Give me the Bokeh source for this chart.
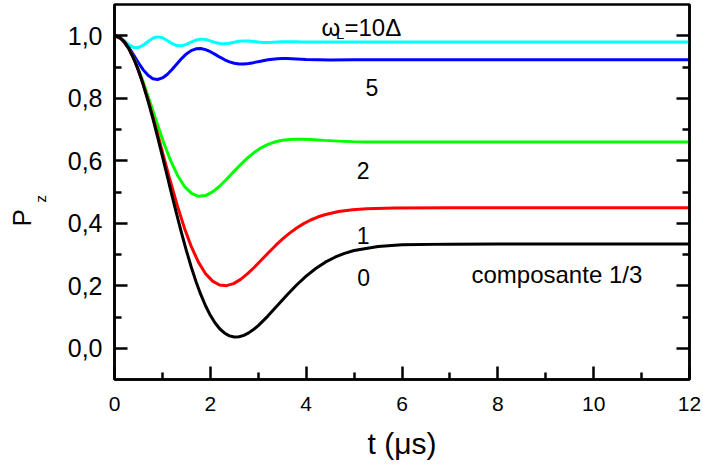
from bokeh.plotting import figure
from bokeh.models import Range1d, LinearAxis, FixedTicker, CustomJSTickFormatter, Label, Title
from bokeh.embed import file_html
from bokeh.resources import INLINE

# ---------------- data ----------------
# omega_L = 0 (zero field)
t_black = [0.0, 0.1, 0.2, 0.3, 0.4, 0.5, 0.6, 0.7, 0.8, 0.9,
           1.0, 1.1, 1.2, 1.3, 1.4, 1.5, 1.6, 1.7, 1.8, 1.9,
           2.0, 2.1, 2.2, 2.3, 2.4, 2.5, 2.6, 2.7, 2.8, 2.9,
           3.0, 3.2, 3.4, 3.6, 3.8, 4.0, 4.2, 4.4, 4.6, 4.8,
           5.0, 5.5, 6.0, 7.0, 8.0, 10.0, 12.0]
p_black = [1.0, 0.9953, 0.9814, 0.9586, 0.9274, 0.8886, 0.8429, 0.7915, 0.7354, 0.6759,
           0.6141, 0.5513, 0.4886, 0.4273, 0.3683, 0.3126, 0.2609, 0.2139, 0.1722, 0.1359,
           0.1054, 0.0807, 0.0616, 0.0481, 0.0397, 0.0361, 0.0368, 0.0413, 0.0492, 0.0598,
           0.0726, 0.1030, 0.1366, 0.1705, 0.2024, 0.2309, 0.2553, 0.2754, 0.2913, 0.3036,
           0.3128, 0.3259, 0.3310, 0.3332, 0.3333, 0.3333, 0.3333]

# omega_L = 1 and 2 Delta
t_rg = [0.0, 0.146, 0.292, 0.439, 0.585, 0.731, 0.877, 1.023, 1.170, 1.316,
        1.462, 1.608, 1.754, 1.901, 2.047, 2.193, 2.339, 2.485, 2.632, 2.778,
        2.924, 3.070, 3.216, 3.363, 3.509, 3.655, 3.801, 3.947, 4.094, 4.240,
        4.386, 4.678, 4.971, 5.263, 5.848, 7.0, 8.0, 10.0, 12.0]
p_red = [1.0, 0.9901, 0.9608, 0.9138, 0.8522, 0.7790, 0.6985, 0.6147, 0.5319, 0.4539,
         0.3835, 0.3233, 0.2748, 0.2386, 0.2148, 0.2024, 0.2003, 0.2069, 0.2203, 0.2386,
         0.2601, 0.2831, 0.3064, 0.3289, 0.3497, 0.3684, 0.3849, 0.3988, 0.4104, 0.4199,
         0.4272, 0.4374, 0.4434, 0.4467, 0.4490, 0.4494, 0.4494, 0.4494, 0.4494]
p_green = [1.0, 0.9901, 0.9612, 0.9159, 0.8580, 0.7925, 0.7246, 0.6592, 0.6009, 0.5529,
           0.5176, 0.4955, 0.4863, 0.4886, 0.5002, 0.5184, 0.5407, 0.5645, 0.5878, 0.6091,
           0.6274, 0.6421, 0.6532, 0.6609, 0.6658, 0.6683, 0.6692, 0.6689, 0.6679, 0.6666,
           0.6652, 0.6628, 0.6612, 0.6603, 0.6600, 0.6600, 0.6600, 0.6600, 0.6600]

# omega_L = 5 and 10 Delta
t_bc = [0.0, 0.1, 0.2, 0.3, 0.4, 0.5, 0.6, 0.7, 0.8, 0.9,
        1.0, 1.1, 1.2, 1.3, 1.4, 1.5, 1.6, 1.7, 1.8, 1.9,
        2.0, 2.1, 2.2, 2.3, 2.4, 2.5, 2.6, 2.7, 2.8, 2.9,
        3.0, 3.1, 3.2, 3.3, 3.4, 3.5, 3.6, 3.7, 3.8, 3.9,
        4.0, 4.5, 5.0, 6.0, 8.0, 10.0, 12.0]
p_blue = [1.0, 0.9954, 0.9822, 0.9622, 0.9382, 0.9133, 0.8908, 0.8733, 0.8627, 0.8600,
          0.8650, 0.8762, 0.8918, 0.9096, 0.9270, 0.9418, 0.9524, 0.9581, 0.9590, 0.9555,
          0.9489, 0.9404, 0.9314, 0.9231, 0.9164, 0.9120, 0.9098, 0.9097, 0.9112, 0.9139,
          0.9171, 0.9202, 0.9230, 0.9251, 0.9264, 0.9270, 0.9269, 0.9265, 0.9257, 0.9249,
          0.9241, 0.9227, 0.9233, 0.9234, 0.9234, 0.9234, 0.9234]
p_cyan = [1.0, 0.9955, 0.9842, 0.9712, 0.9627, 0.9622, 0.9697, 0.9815, 0.9920, 0.9964,
          0.9935, 0.9850, 0.9753, 0.9687, 0.9678, 0.9724, 0.9796, 0.9861, 0.9892, 0.9879,
          0.9836, 0.9786, 0.9752, 0.9745, 0.9763, 0.9794, 0.9822, 0.9835, 0.9832, 0.9817,
          0.9800, 0.9787, 0.9784, 0.9789, 0.9798, 0.9806, 0.9810, 0.9810, 0.9806, 0.9802,
          0.9799, 0.9802, 0.9802, 0.9802, 0.9802, 0.9802, 0.9802]

x_ticks = [0, 2, 4, 6, 8, 10, 12]
x_minor = [1, 3, 5, 7, 9, 11]
y_ticks = [0.0, 0.2, 0.4, 0.6, 0.8, 1.0]
y_minor = [0.1, 0.3, 0.5, 0.7, 0.9]

FONT = "Liberation Sans"

p = figure(width=703, height=463, x_range=Range1d(0, 12), y_range=Range1d(-0.1, 1.1),
           output_backend="svg", toolbar_location=None,
           min_border_left=114, min_border_right=14, min_border_top=4, min_border_bottom=84)
p.grid.visible = False
p.background_fill_color = "white"
p.border_fill_color = "white"
p.outline_line_color = "black"
p.outline_line_width = 2.5
p.outline_line_alpha = 1.0

p.xaxis.ticker = FixedTicker(ticks=x_ticks, minor_ticks=x_minor)
p.yaxis.ticker = FixedTicker(ticks=y_ticks, minor_ticks=y_minor)
p.yaxis.formatter = CustomJSTickFormatter(code="return tick.toFixed(1).replace('.', ',');")

right = LinearAxis(ticker=FixedTicker(ticks=y_ticks, minor_ticks=y_minor),
                   major_label_text_font_size="0px")
p.add_layout(right, "right")

for ax in [p.xaxis[0], p.yaxis[0], right]:
    ax.axis_line_width = 2.5
    ax.axis_line_color = "black"
    ax.major_tick_line_width = 2.5
    ax.minor_tick_line_width = 2.5
    ax.major_tick_line_color = "black"
    ax.minor_tick_line_color = "black"
    ax.major_tick_in = 13
    ax.major_tick_out = 0
    ax.minor_tick_in = 7
    ax.minor_tick_out = 0
    ax.major_label_text_font = FONT
    ax.major_label_text_color = "black"

p.xaxis[0].major_label_text_font_size = "21px"
p.yaxis[0].major_label_text_font_size = "25px"
p.xaxis[0].major_label_standoff = 17
p.yaxis[0].major_label_standoff = 12
right.major_label_standoff = 0

p.xaxis[0].axis_label = "t (μs)"
p.xaxis[0].axis_label_text_font = FONT
p.xaxis[0].axis_label_text_font_size = "30px"
p.xaxis[0].axis_label_text_font_style = "normal"
p.xaxis[0].axis_label_text_color = "black"
p.xaxis[0].axis_label_standoff = 13

# y-axis title P_z (subscript z sits between the tick labels and the P)
p.add_layout(Title(text="z", text_font=FONT, text_font_size="15px", text_font_style="normal",
                   text_color="black", align="left", offset=177, standoff=31), "left")
p.add_layout(Title(text="P", text_font=FONT, text_font_size="26px", text_font_style="normal",
                   text_color="black", align="left", offset=153, standoff=-44), "left")

# curves
p.line(t_bc, p_cyan, line_color="#00ffff", line_width=3)
p.line(t_bc, p_blue, line_color="#0000ff", line_width=3)
p.line(t_rg, p_green, line_color="#00ff00", line_width=3)
p.line(t_rg, p_red, line_color="#ff0000", line_width=3)
p.line(t_black, p_black, line_color="#000000", line_width=3)


def lab(x, y, text, size, align="left"):
    p.add_layout(Label(x=x, y=y, text=text, text_font=FONT, text_font_size=size,
                       text_align=align, text_baseline="alphabetic", text_color="black"))


lab(4.32, 1.026, "ω", "24px")
lab(4.62, 1.006, "L", "15px")
lab(4.80, 1.026, "=10Δ", "24px")
lab(5.37, 0.834, "5", "23px", align="center")
lab(5.19, 0.568, "2", "23px", align="center")
lab(5.19, 0.360, "1", "23px", align="center")
lab(5.20, 0.226, "0", "23px", align="center")
lab(7.45, 0.236, "composante 1/3", "24px")

open("out.html", "w").write(file_html(p, INLINE))
